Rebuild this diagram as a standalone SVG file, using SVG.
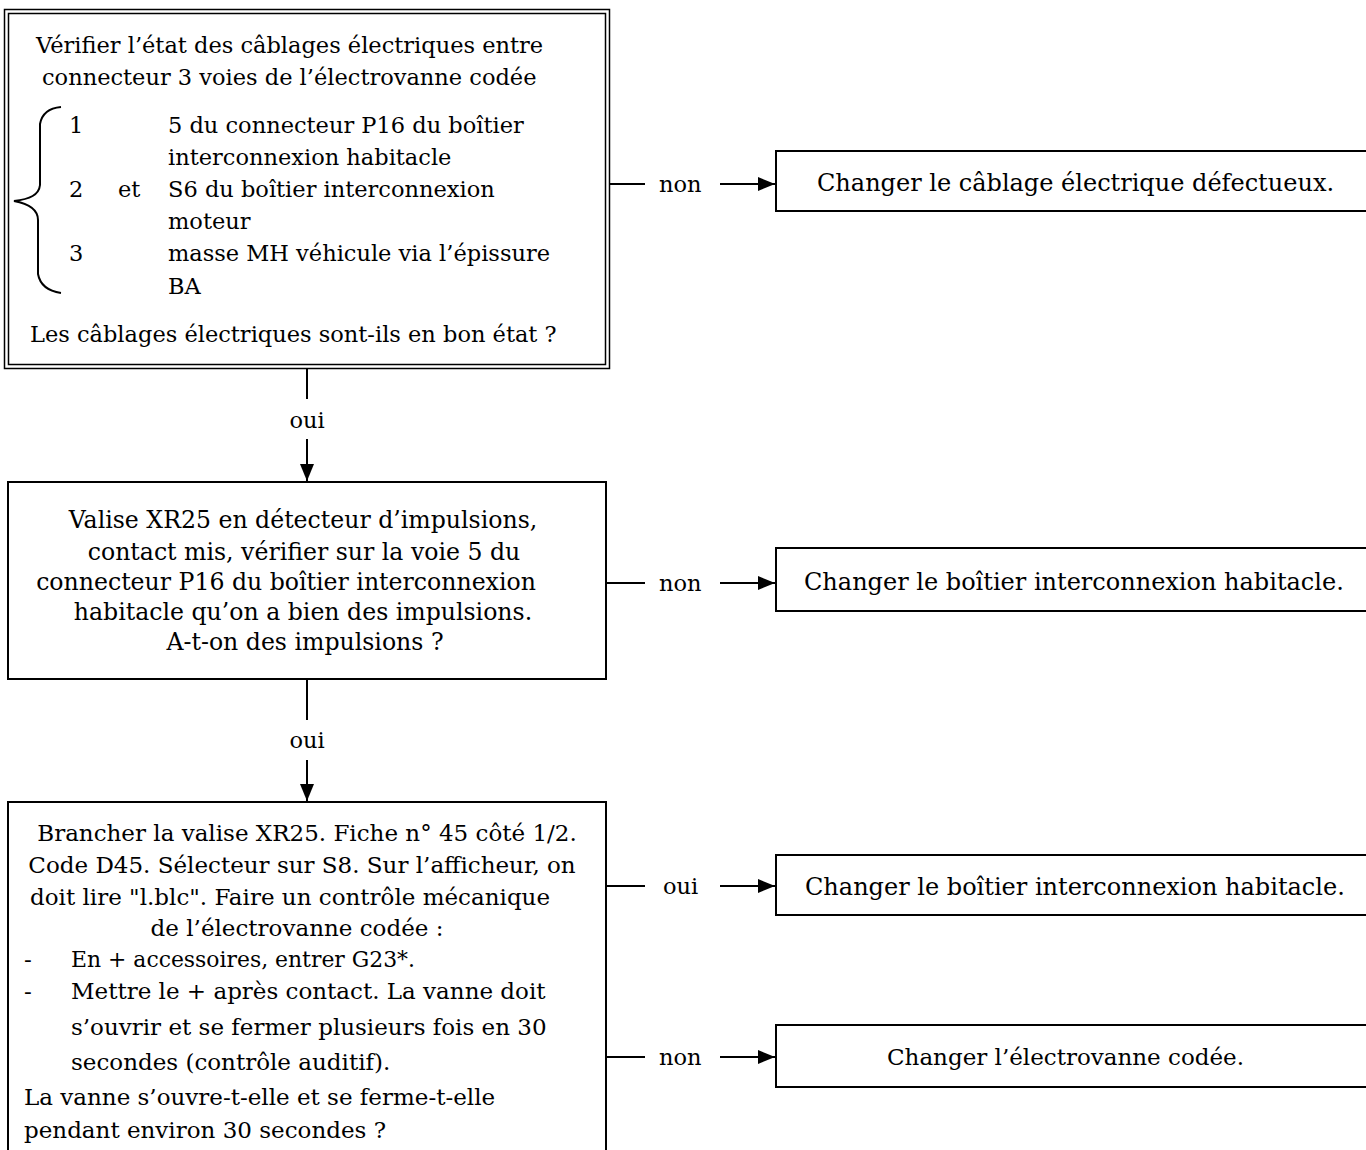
<svg xmlns="http://www.w3.org/2000/svg" width="1366" height="1150" viewBox="0 0 1366 1150">
<defs>
<style>
text{font-family:"DejaVu Serif","Liberation Serif",serif;font-size:22.5px;fill:#000}
.c{text-anchor:middle}
.b2 text{font-size:23.6px}
.b3 text{font-size:23px}
.r text{font-size:24px}
.r text.s{font-size:23px}
.box{fill:#fff;stroke:#000;stroke-width:2}
.ln{stroke:#000;stroke-width:2;fill:none}
</style>
<marker id="ah" viewBox="0 0 17 14" refX="17" refY="7" markerWidth="17" markerHeight="14" markerUnits="userSpaceOnUse" orient="auto">
<path d="M0,0L17,7L0,14z" fill="#000"/>
</marker>
</defs>
<rect width="1366" height="1150" fill="#fff"/>
<g id="n1">
<rect x="4.5" y="9.5" width="605" height="359" fill="#fff" stroke="#000" stroke-width="1.5"/>
<rect x="8.5" y="13.5" width="597" height="351" fill="none" stroke="#000" stroke-width="1.5"/>
<path class="ln" stroke-width="2.5" d="M61,107 C50,108 42,113 40,124 L40,185 C39,195 30,199 14,201 C30,204 38,210 38,220 L38,274 C40,285 48,291 61,293"/>
<text x="36" y="53">Vérifier l’état des câblages électriques entre</text>
<text x="42" y="85">connecteur 3 voies de l’électrovanne codée</text>
<text x="69" y="133">1</text><text x="168" y="133">5 du connecteur P16 du boîtier</text>
<text x="168" y="165">interconnexion habitacle</text>
<text x="69" y="197">2</text><text x="118" y="197">et</text><text x="168" y="197">S6 du boîtier interconnexion</text>
<text x="168" y="229">moteur</text>
<text x="69" y="261">3</text><text x="168" y="261">masse MH véhicule via l’épissure</text>
<text x="168" y="294">BA</text>
<text x="30" y="342">Les câblages électriques sont-ils en bon état ?</text>
</g>
<g id="n2" class="r">
<rect class="box" x="776" y="151" width="600" height="60"/>
<text x="817" y="191">Changer le câblage électrique défectueux.</text>
</g>
<g id="n3" class="b2">
<rect class="box" x="8" y="482" width="598" height="197"/>
<text class="c" x="303" y="528">Valise XR25 en détecteur d’impulsions,</text>
<text class="c" x="304" y="560">contact mis, vérifier sur la voie 5 du</text>
<text class="c" x="286" y="590">connecteur P16 du boîtier interconnexion</text>
<text class="c" x="303" y="620">habitacle qu’on a bien des impulsions.</text>
<text class="c" x="305" y="650">A-t-on des impulsions ?</text>
</g>
<g id="n4" class="r">
<rect class="box" x="776" y="548" width="600" height="63"/>
<text x="804" y="590">Changer le boîtier interconnexion habitacle.</text>
</g>
<g id="n5" class="b3">
<rect class="box" x="8" y="802" width="598" height="360"/>
<text class="c" x="307" y="841">Brancher la valise XR25. Fiche n° 45 côté 1/2.</text>
<text class="c" x="302" y="873">Code D45. Sélecteur sur S8. Sur l’afficheur, on</text>
<text class="c" x="290" y="905">doit lire "l.blc". Faire un contrôle mécanique</text>
<text class="c" x="297" y="936">de l’électrovanne codée :</text>
<text x="24" y="967">-</text><text x="71" y="967" textLength="344" lengthAdjust="spacingAndGlyphs">En + accessoires, entrer G23*.</text>
<text x="24" y="999">-</text><text x="71" y="999">Mettre le + après contact. La vanne doit</text>
<text x="71" y="1035">s’ouvrir et se fermer plusieurs fois en 30</text>
<text x="71" y="1070">secondes (contrôle auditif).</text>
<text x="24" y="1105">La vanne s’ouvre-t-elle et se ferme-t-elle</text>
<text x="24" y="1138">pendant environ 30 secondes ?</text>
</g>
<g id="n6" class="r">
<rect class="box" x="776" y="855" width="600" height="60"/>
<text x="805" y="895">Changer le boîtier interconnexion habitacle.</text>
</g>
<g id="n7" class="r">
<rect class="box" x="776" y="1025" width="600" height="62"/>
<text class="s" x="887" y="1065">Changer l’électrovanne codée.</text>
</g>
<g id="connectors">
<line class="ln" x1="609" y1="184" x2="645" y2="184"/>
<text x="659" y="192">non</text>
<line class="ln" x1="720" y1="184" x2="775" y2="184" marker-end="url(#ah)"/>
<line class="ln" x1="307" y1="369" x2="307" y2="399"/>
<text class="c" x="307" y="428">oui</text>
<line class="ln" x1="307" y1="439" x2="307" y2="481" marker-end="url(#ah)"/>
<line class="ln" x1="606" y1="583" x2="645" y2="583"/>
<text x="659" y="591">non</text>
<line class="ln" x1="720" y1="583" x2="775" y2="583" marker-end="url(#ah)"/>
<line class="ln" x1="307" y1="679" x2="307" y2="720"/>
<text class="c" x="307" y="748">oui</text>
<line class="ln" x1="307" y1="760" x2="307" y2="801" marker-end="url(#ah)"/>
<line class="ln" x1="606" y1="886" x2="645" y2="886"/>
<text x="663" y="894">oui</text>
<line class="ln" x1="720" y1="886" x2="775" y2="886" marker-end="url(#ah)"/>
<line class="ln" x1="606" y1="1057" x2="645" y2="1057"/>
<text x="659" y="1065">non</text>
<line class="ln" x1="720" y1="1057" x2="775" y2="1057" marker-end="url(#ah)"/>
</g>
</svg>
